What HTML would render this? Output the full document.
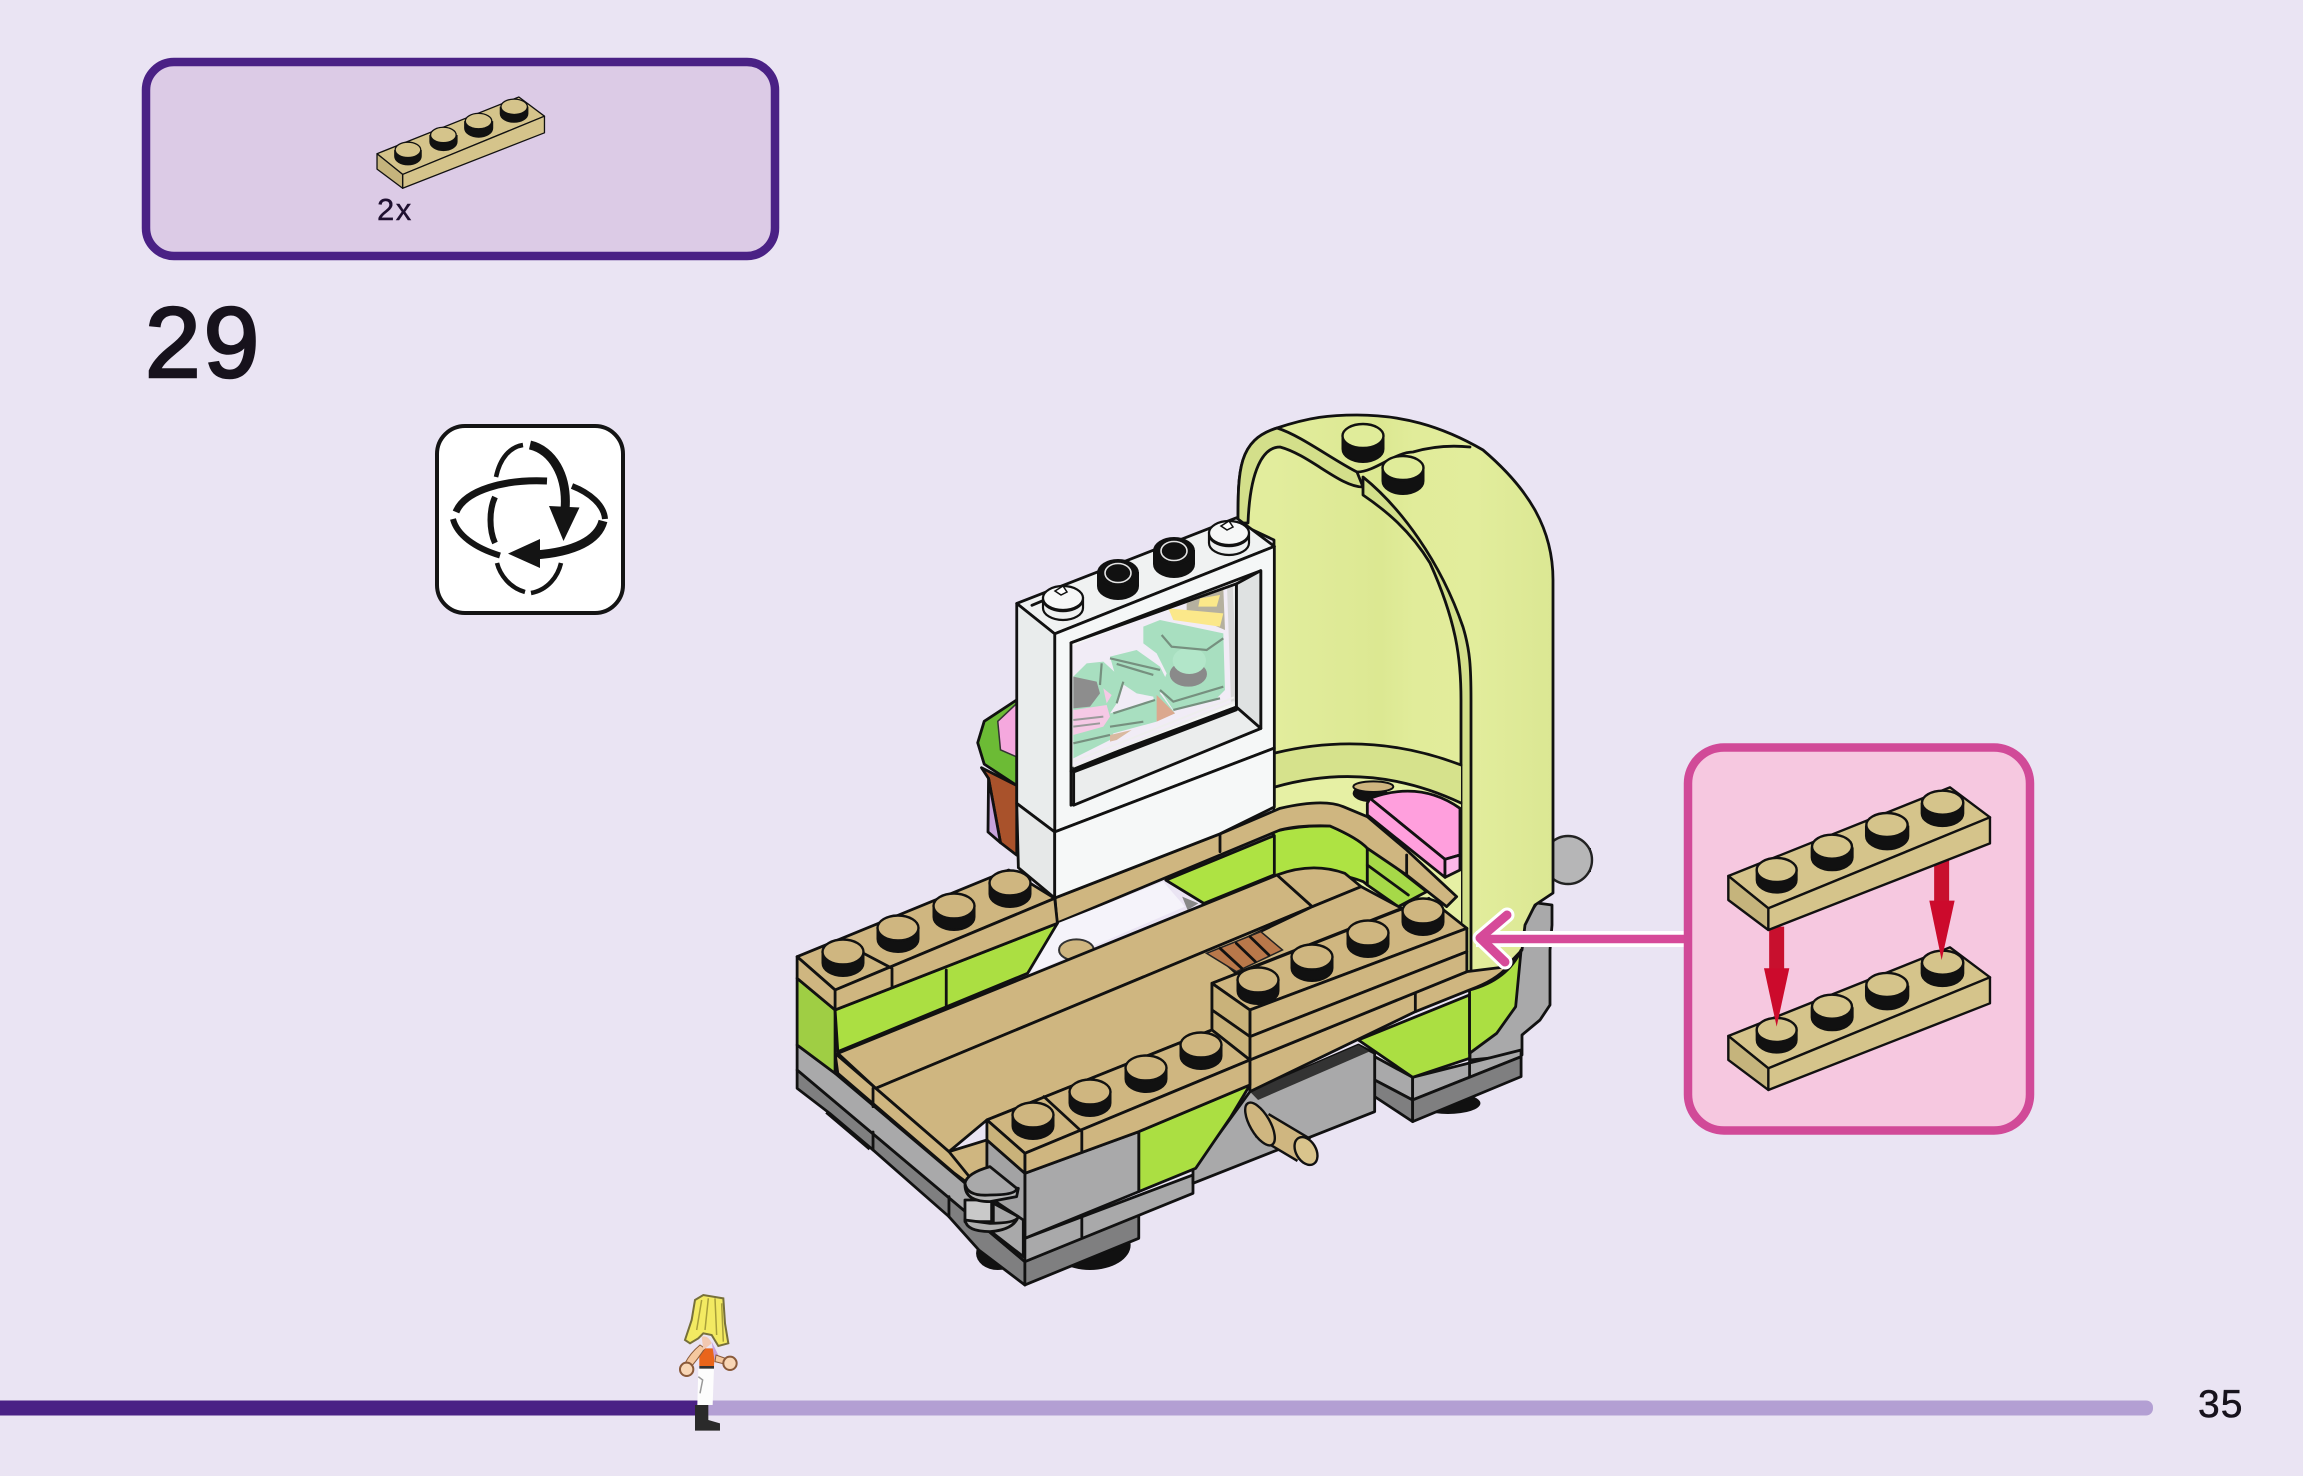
<!DOCTYPE html>
<html><head><meta charset="utf-8"><title>Step 29</title>
<style>
html,body{margin:0;padding:0;background:#eae4f3;width:2303px;height:1476px;overflow:hidden}
svg{display:block}
svg *{vector-effect:non-scaling-stroke}
.k{stroke:#111;stroke-width:2.8;stroke-linejoin:round;stroke-linecap:round}
.t{fill:#cfb680}.l{fill:#abdf42}.g{fill:#a9a9aa}.d{fill:#7f7f80}.w{fill:#f4f6f6}
.bs{stroke:#111;stroke-width:var(--sw,2.4);stroke-linejoin:round}
text{font-family:"Liberation Sans",sans-serif}
</style></head><body>
<svg xmlns="http://www.w3.org/2000/svg" width="2303" height="1476" viewBox="0 0 2303 1476">
<defs>
<linearGradient id="g1" gradientUnits="userSpaceOnUse" x1="1275" y1="0" x2="1553" y2="0">
<stop offset="0" stop-color="#e2ed9d"/><stop offset=".38" stop-color="#dce892"/><stop offset=".5" stop-color="#e1ec9a"/><stop offset=".72" stop-color="#e2ed9c"/><stop offset="1" stop-color="#dbe793"/>
</linearGradient>
<linearGradient id="g2" gradientUnits="userSpaceOnUse" x1="1280" y1="0" x2="1360" y2="0">
<stop offset="0" stop-color="#aee343"/><stop offset=".5" stop-color="#bdec58"/><stop offset="1" stop-color="#aee343"/>
</linearGradient>
<g id="stud"><path d="M-20.500,0V11A20.500,13 0 0 0 20.500,11V0Z" fill="#111" stroke="#111" stroke-width="2"/><ellipse rx="20.500" ry="12.500" fill="#cfb680" stroke="#111" stroke-width="2.400"/></g>
<g id="pstud"><path d="M-20.500,0V13A20.500,13 0 0 0 20.500,13V0Z" fill="#111" stroke="#111" stroke-width="2"/><ellipse rx="20.500" ry="12" fill="#e0ec9a" stroke="#111" stroke-width="2.400"/></g>
<g id="wstud"><path d="M-20,0V10A20,12 0 0 0 20,10V0Z" fill="#eef0f0" stroke="#111" stroke-width="2.200"/><ellipse rx="20" ry="12" fill="#f6f7f7" stroke="#111" stroke-width="2.200"/><path d="M-19,5A20,12 0 0 0 19,5" fill="none" stroke="#111" stroke-width="2"/><path d="M-8,-7L0,-12L4,-6L-2,-3Z" fill="#fff" stroke="#111" stroke-width="1.500"/></g>
<g id="bstud"><path d="M-20,0V13A20,13 0 0 0 20,13V0Z" fill="#111" stroke="#111" stroke-width="2"/><ellipse rx="20" ry="13" fill="#111" stroke="#111" stroke-width="2"/><ellipse rx="13" ry="9.500" fill="#111" stroke="#e4e4e4" stroke-width="1.600"/></g>
<g id="brick">
<path class="bs" d="M205,438L870,172L990,262L325,535Z" fill="#d5c48b"/>
<path class="bs" d="M325,535L990,262V340L325,600Z" fill="#d5c48b"/>
<path class="bs" d="M205,438L325,535V600L205,510Z" fill="#c5b47c"/>
<g fill="#111" stroke="#111" stroke-width="2">
<path d="M290,425V450A60,38 0 0 0 410,450V425Z"/><path d="M455,355V382A60,38 0 0 0 578,382V355Z"/><path d="M618,290V318A60,38 0 0 0 745,318V290Z"/><path d="M785,222V250A62,38 0 0 0 910,250V222Z"/>
</g>
<g fill="#d5c48b">
<ellipse class="bs" cx="350" cy="420" rx="60" ry="36"/><ellipse class="bs" cx="516" cy="350" rx="60" ry="36"/><ellipse class="bs" cx="681" cy="285" rx="62" ry="36"/><ellipse class="bs" cx="848" cy="218" rx="62" ry="36"/>
</g>
</g>
</defs>

<rect width="2303" height="1476" fill="#eae4f3"/>

<!-- parts box -->
<rect x="146" y="62" width="629" height="194" rx="28" fill="#dccbe6" stroke="#4a2185" stroke-width="8.500"/>
<use href="#brick" style="--sw:1.300" transform="translate(333.300,60.300) scale(.2133)"/>
<text x="377" y="220" font-size="31" fill="#1f1030" stroke="#1f1030" stroke-width=".4" letter-spacing="1.500">2x</text>
<text x="145" y="377" font-size="100" fill="#17121c" stroke="#17121c" stroke-width="2.600" letter-spacing="3">29</text>

<!-- rotate icon -->
<rect x="437" y="426" width="186" height="187" rx="28" fill="#fff" stroke="#141414" stroke-width="4"/>
<g fill="none" stroke="#141414" stroke-linecap="butt">
<path d="M496,477C500,458 510,447 523,445" stroke-width="4.500"/>
<path d="M530,445C552,450 568,475 565,510" stroke-width="9"/>
<path d="M456,512C465,490 505,479 547,481" stroke-width="7"/>
<path d="M572,486C590,493 604,505 605,519" stroke-width="6"/>
<path d="M453,519C457,535 475,548 500,555.500" stroke-width="6"/>
<path d="M495,497C489,510 489,530 495,543" stroke-width="6"/>
<path d="M497,563C500,575 510,588 525,592" stroke-width="4.500"/>
<path d="M561,563C558,576 548,590 531,593" stroke-width="4.500"/>
<path d="M603,521C598,540 575,552 535,555" stroke-width="9"/>
</g>
<path d="M549,506L579.500,507.500L563.500,541Z" fill="#141414"/>
<path d="M540,539L508,553.600L540,568Z" fill="#141414"/>

<!-- ball & back bracket -->
<rect x="1586" y="848" width="5" height="24" fill="#222"/>
<circle cx="1568" cy="860" r="24" fill="#b6b6b7" stroke="#222" stroke-width="2.400"/>
<path class="k g" d="M1525,920L1537,903L1552,905V925L1550,950V1005L1540,1020L1522,1035V1055L1470,1060V1040Z"/>

<!-- dome -->
<path class="k" fill="url(#g1)" d="M1238,523C1238,470 1238,440 1277,428C1310,417 1330,415 1357,415C1400,415 1440,425 1483,450C1530,490 1553,530 1553,580V893L1535,905L1525,925L1522,950L1500,973L1470,990L1274,960V540Z"/>
<path class="k" fill="#d3df8a" d="M1238,523C1238,470 1238,440 1277,428C1300,435 1333,460 1357,472L1363,487C1340,487 1310,455 1280,447C1263,447 1250,470 1248,523Z"/>
<path class="k" fill="none" d="M1357,472C1375,472 1395,452 1413,452C1430,447 1450,445 1470,447"/>
<path class="k" fill="#d3df8a" d="M1363,477C1400,507 1440,560 1463,627C1470,650 1471,667 1471,700V980H1461V700C1461,660 1457,623 1430,563C1410,530 1385,510 1363,495Z"/>
<path d="M1275,753Q1370,730 1461,765V803Q1370,760 1275,787Z" fill="#d6e28c"/>
<path d="M1275,787Q1370,760 1461,803V940H1275Z" fill="#e6f0a4"/>
<path class="k" fill="none" d="M1275,753Q1370,730 1461,765M1275,787Q1370,760 1461,803"/>

<!-- Zoom4 frame: lime, rim, pink -->
<g transform="translate(1280,760) scale(.3333)">
<path class="k" fill="url(#g2)" d="M-20,215Q60,195 150,198Q235,235 262,265V375L250,365Q130,320 -20,350Z"/>
<path class="k" fill="#a6d948" d="M262,255L440,395L355,440L262,375Z"/>
<path class="k" fill="none" d="M262,315L385,405"/>
<path class="k t" d="M-675,414L-180,222L0,145Q130,115 190,140L262,170L380,270L530,410L500,440L380,345L262,265Q235,235 150,198Q60,195 0,210L-669,489Z"/>
<path class="k" fill="none" d="M-180,222V275M380,285V345"/>
<ellipse cx="270" cy="100" rx="52" ry="26" fill="#111"/>
<ellipse cx="280" cy="80" rx="60" ry="16" fill="#cfb680" stroke="#111" stroke-width="2"/>
<path class="k" fill="#ff9fdd" d="M270,115Q420,60 540,145V285L495,298Z"/>
<path class="k" fill="#ff9fdd" d="M262,130L270,115L495,298V352L262,165Z"/>
<path class="k" fill="#fdb8e8" d="M495,298L540,285V330L495,352Z"/>
</g>

<!-- Zoom1 frame: left lime, cupcake, window -->
<g transform="matrix(.5423 0 0 .357 770 400)">
<path class="k l" style="fill:#aee343" d="M730,1345L930,1220V1330L800,1410Z"/>
<path class="k" style="fill:#6cbb35" d="M455,840L395,900L383,960L395,1020L455,1080Z"/>
<path d="M420,900L455,850V1000L425,980Z" fill="#f5a8de" stroke="#333" stroke-width="1.500"/>
<path class="k" fill="#a9522b" d="M390,1030L455,1080V1275L425,1240L403,1060Z"/>
<path class="k" fill="#c7a3dc" d="M403,1060L425,1240L402,1210Z"/>
<path class="k" fill="#f0f2f2" d="M455,570L860,330L930,410L525,655Z"/>
<path class="k" fill="#f5f7f7" d="M525,655L930,410V975L525,1210Z"/>
<path class="k" fill="#e9ecec" d="M455,570L525,655V1210L455,1130Z"/>
<path class="k" fill="#e6e8e8" d="M455,1130L525,1210V1395L458,1310Z"/>
<path class="k" fill="#f6f8f8" d="M525,1210L930,975V1140L830,1215L525,1395Z"/>
<path class="k" fill="#f4f5f5" d="M555,680L905,478V920L555,1135Z"/>
<path class="k" fill="#dfe2e2" d="M860,515L905,478V920L860,860Z"/>
<path class="k" fill="#ebeded" d="M560,1030L860,860L905,920L560,1135Z"/>
</g>
<!-- glass contents -->
<g transform="translate(1060,570) scale(.3333)">
<path d="M38,228L505,45L520,395L40,590Z" fill="#f1ecf6"/>
<path d="M380,100L490,55L495,180L380,130Z" fill="#b5b09f"/>
<path d="M325,115L490,130L480,170L340,150Z" fill="#fbe88a"/>
<path d="M420,85L480,75L470,110L415,110Z" fill="#fbe88a"/>
<path d="M250,170L300,150L490,190L495,360L470,385L340,420L300,360L320,310L290,250L250,220Z" fill="#a8dfc0"/>
<path d="M150,260L230,240L300,290L320,330L300,370L345,430L290,450L280,380L230,370L170,330Z" fill="#a8dfc0"/>
<path d="M40,320L80,280L130,275L190,330L170,400L150,430L290,390V455L160,490L150,510L40,565Z" fill="#a8dfc0"/>
<path d="M290,375L345,430L290,455Z" fill="#dba88e"/>
<path d="M150,495L215,480L170,510L150,515Z" fill="#d9b9a0"/>
<path d="M40,320L110,335L120,370L90,410L40,415Z" fill="#8d8d8d"/>
<path d="M40,420L140,405L150,440L130,470L40,495Z" fill="#f5c9e5"/>
<path d="M130,355L155,375L140,400Z" fill="#f5c9e5"/>
<path d="M40,450L130,440M40,470L120,460" stroke="#9a9a9a" stroke-width="2" fill="none"/>
<ellipse cx="385" cy="312" rx="56" ry="38" fill="#8a8a8a"/>
<ellipse cx="388" cy="272" rx="50" ry="40" fill="#b2e6c9"/>
<g fill="none" stroke="#76907f" stroke-width="2.200">
<path d="M150,265L300,300"/><path d="M170,282L280,315"/><path d="M125,280L120,345"/>
<path d="M305,195L335,230L440,240L490,205"/>
<path d="M300,360L340,395L490,350"/><path d="M340,420L480,385"/>
<path d="M160,430L285,390"/><path d="M150,470L250,455"/>
<path d="M190,335L170,400"/><path d="M40,520L150,495"/>
</g>
<path d="M510,45L522,395" stroke="#d9d9d9" stroke-width="6" fill="none"/>
<path d="M40,575L522,382M40,590L522,396" stroke="#eee" stroke-width="2" fill="none"/>
</g>
<g transform="matrix(.5423 0 0 .357 770 400)">
<path class="k" fill="none" d="M555,680L860,515V860L555,1040"/>
<path class="k" fill="none" d="M560,1042L860,868"/>
<path class="k" fill="none" d="M483,575L530,545L515,605"/>
</g>
<use href="#wstud" x="1063" y="598"/>
<use href="#bstud" x="1118" y="573"/>
<use href="#bstud" x="1174" y="551"/>
<use href="#wstud" x="1229" y="533"/>
<use href="#pstud" x="1363" y="436"/>
<use href="#pstud" x="1403" y="468"/>

<!-- Zoom2 frame: base -->
<g transform="matrix(.5423 0 0 .3333 770 840)">
<ellipse cx="420" cy="1240" rx="40" ry="50" fill="#111"/>
<ellipse cx="590" cy="1215" rx="75" ry="75" fill="#111"/>
<ellipse cx="1250" cy="790" rx="60" ry="32" fill="#111"/>
<path d="M105,815L185,925" stroke="#111" stroke-width="5" fill="none"/>
<!-- right block -->
<path class="k g" d="M1115,650L1185,712V780L1115,720Z"/>
<path class="k d" d="M1115,720L1185,780V845L1115,770Z"/>
<path class="k g" d="M1185,712L1385,630V650L1185,780Z"/>
<path class="k d" d="M1185,780L1385,650V710L1185,845Z"/>
<path class="k" fill="none" d="M1290,640V710"/>
<!-- base greys -->
<path class="k d" d="M50,690L470,1265V1335L385,1230L330,1130L190,930L110,820L50,745Z"/>
<path class="k d" d="M470,1265L680,1125V1195L470,1335Z"/>
<path class="k g" d="M50,615L120,700L360,1030L470,1195V1265L50,690Z"/>
<path class="k g" d="M470,1195L780,1005V1060L470,1265Z"/>
<path class="k" fill="none" d="M575,1130V1190M190,876V930M330,1070V1130"/>
<path class="k g" d="M885,755L1085,615L1115,640V815L780,1030V990Z"/>
<path d="M885,755L1085,615L1105,635L900,780Z" fill="#333"/>
<path class="k l" d="M1085,600L1290,465V655L1185,712Z"/>
<path class="k l" d="M1290,450Q1360,420 1385,330L1375,500L1340,580L1290,640Z"/>
<path class="k l" d="M680,875L885,735L850,830L785,985L680,1055Z"/>
<path class="k g" d="M470,1000L680,875V1055L470,1195Z"/>
<!-- floor -->
<path d="M530,250L725,125L765,200L480,400Z" fill="#f5f3fa"/>
<path d="M760,170L790,190L770,210Z" fill="#888"/>
<ellipse cx="565" cy="330" rx="32" ry="32" fill="#cfb680" stroke="#333" stroke-width="2"/>
<path class="k t" d="M125,640L935,105L1000,200L195,745Z"/>
<path class="k t" d="M195,745L1000,200L1165,205L815,430V570L400,840L330,935Z"/>
<path class="k t" d="M935,105Q1000,65 1060,100L1090,140L1000,200Z"/>
<path class="k t" d="M1000,200L1090,140L1165,205L860,400L820,340Z"/>
<path d="M805,340L905,275L945,330L860,395Z" fill="#b9784a" stroke="#222" stroke-width="1.500"/>
<path class="k" fill="none" d="M830,325L870,385M860,310L895,365M885,290L920,345"/>
<path class="k t" d="M120,640L125,700L340,1000L365,1030L400,985V900L330,935L195,745Z"/>
<path class="k" fill="none" d="M190,745V800M330,935L365,1005"/>
<!-- left row -->
<path class="k" style="fill:#9fce44" d="M50,415L120,510V700L50,615Z"/>
<path class="k l" d="M120,510L530,250L475,400L125,635Z"/>
<path class="k" fill="none" d="M325,390V500"/>
<path class="k t" d="M50,350L440,90L525,175L120,450Z"/>
<path class="k t" d="M120,450L525,175L530,250L120,510Z"/>
<path class="k t" d="M50,350L120,450V510L50,415Z"/>
<path class="k" fill="none" d="M155,325L225,385V440"/>
<!-- back right row + rim -->
<path class="k t" d="M885,660L1285,395L1360,380Q1340,420 1290,450L1190,515L885,755Z"/>
<path class="k" fill="none" d="M1190,460V515"/>
<path class="k t" d="M815,430L1215,175L1285,265L885,510Z"/>
<path class="k t" d="M885,510L1285,265V335L885,590Z"/>
<path class="k t" d="M885,590L1285,335V395L885,660Z"/>
<path class="k t" style="fill:#c9b27a" d="M815,430L885,510V590L815,510Z"/>
<path class="k t" style="fill:#c9b27a" d="M815,510L885,590V660L815,570Z"/>
<!-- front row -->
<path class="k" fill="#a3a3a4" d="M400,900L470,1000V1195L400,1120Z"/>
<path class="k t" d="M400,840L815,570L885,660L470,940Z"/>
<path class="k t" d="M470,940L885,660V735L680,875L470,1000Z"/>
<path class="k t" style="fill:#c9b27a" d="M400,840L470,940V1000L400,900Z"/>
<path class="k" fill="none" d="M505,770L575,875V935"/>
</g>
<use href="#stud" x="843" y="952"/><use href="#stud" x="898" y="928"/><use href="#stud" x="954" y="906"/><use href="#stud" x="1010" y="883"/>
<use href="#stud" x="1258" y="980"/><use href="#stud" x="1312" y="957"/><use href="#stud" x="1368" y="933"/><use href="#stud" x="1423" y="911"/>
<use href="#stud" x="1033" y="1115"/><use href="#stud" x="1090" y="1092"/><use href="#stud" x="1146" y="1068"/><use href="#stud" x="1201" y="1045"/>

<!-- pin -->
<path d="M1262,1125L1304,1150" stroke="#111" stroke-width="28"/>
<path d="M1262,1125L1304,1150" stroke="#cfb680" stroke-width="23"/>
<ellipse cx="1260" cy="1124" rx="10" ry="24" transform="rotate(-30 1260 1124)" fill="#cfb680" stroke="#111" stroke-width="2.400"/>
<ellipse cx="1306" cy="1151" rx="10" ry="15" transform="rotate(-30 1306 1151)" fill="#d9c48c" stroke="#111" stroke-width="2.400"/>

<!-- clip -->
<g transform="translate(790,1000) scale(.3333)">
<path class="k" fill="#a9a9aa" d="M610,600L700,660V770L610,700Z"/>
<path class="k" fill="#c9c9c9" d="M525,600H605V665H525Z"/>
<path class="k" fill="#b0b0b0" d="M610,610L685,650Q680,670 600,670L525,660Q530,695 600,695Q670,690 685,650Z"/>
<path class="k" fill="#b4b4b4" d="M525,555Q525,605 600,605L680,590L685,565Z"/>
<path class="k" fill="#a9a9aa" d="M525,550Q530,520 600,500L680,565Q680,585 600,585Q530,590 525,550Z"/>
</g>

<!-- arrow -->
<path d="M1476,939H1686" stroke="#fff" stroke-width="16" fill="none"/>
<path d="M1507,915L1480,938L1505,962" stroke="#fff" stroke-width="15" fill="none" stroke-linecap="round" stroke-linejoin="round"/>
<path d="M1480,939H1686" stroke="#d64a99" stroke-width="8.500" fill="none"/>
<path d="M1507,915L1480,938L1505,962" stroke="#d64a99" stroke-width="9" fill="none" stroke-linecap="round" stroke-linejoin="round"/>

<!-- inset -->
<rect x="1688" y="747.500" width="342" height="383" rx="36" fill="#f6c8e0" stroke="#d14a98" stroke-width="8.500"/>
<g transform="translate(1660,730) scale(.3333)">
<use href="#brick" y="480"/>
<path d="M350,590V725" stroke="#c8102e" stroke-width="15"/>
<path d="M312,715H388L350,890Z" fill="#cc0a2c"/>
<path d="M845,385V520" stroke="#c8102e" stroke-width="15"/>
<path d="M808,512H884L845,690Z" fill="#cc0a2c"/>
<use href="#brick"/>
</g>

<!-- progress bar -->
<rect x="690" y="1400.500" width="1463" height="15" rx="7" fill="#b39fd3"/>
<rect x="0" y="1400.500" width="700" height="15" fill="#4a2185"/>

<!-- figure -->
<g transform="translate(640,1280) scale(.3333)">
<path d="M165,375H205V420L240,430V452H165Z" fill="#2a2a2a"/>
<path d="M175,265H222L218,375H172Z" fill="#fdfdfd"/>
<path d="M175,290L188,300L180,340" stroke="#999" stroke-width="1.500" fill="none"/>
<rect x="178" y="258" width="44" height="8" fill="#333"/>
<path d="M178,205L225,205L222,258H178Z" fill="#e9651b"/>
<path d="M215,185L235,225L225,250Z" fill="#c9a3dc"/>
<path d="M180,195Q150,220 135,250L150,265Q175,235 195,205Z" fill="#f5c89f" stroke="#8a5a3a" stroke-width="1"/>
<path d="M228,225L270,240L265,255L225,245Z" fill="#f5c89f" stroke="#8a5a3a" stroke-width="1"/>
<circle cx="140" cy="268" r="20" fill="#f8d6b5" stroke="#8a5a3a" stroke-width="2"/>
<circle cx="270" cy="250" r="20" fill="#f8d6b5" stroke="#8a5a3a" stroke-width="2"/>
<path d="M165,60L190,45L250,55L255,130L265,190L235,198L215,165L190,160L175,175L150,190L135,180L155,120Z" fill="#f3ea62" stroke="#77703a" stroke-width="2"/>
<path d="M185,60L170,150M205,55L195,150M225,55L230,165M245,70L250,185" stroke="#a89f3a" stroke-width="1.500" fill="none"/>
<path d="M185,170Q205,165 215,190L190,210Z" fill="#f2c8b0"/>
</g>

<text x="2198" y="1417" font-size="39" fill="#17121c" stroke="#17121c" stroke-width=".5" letter-spacing="1">35</text>
</svg>
</body></html>
